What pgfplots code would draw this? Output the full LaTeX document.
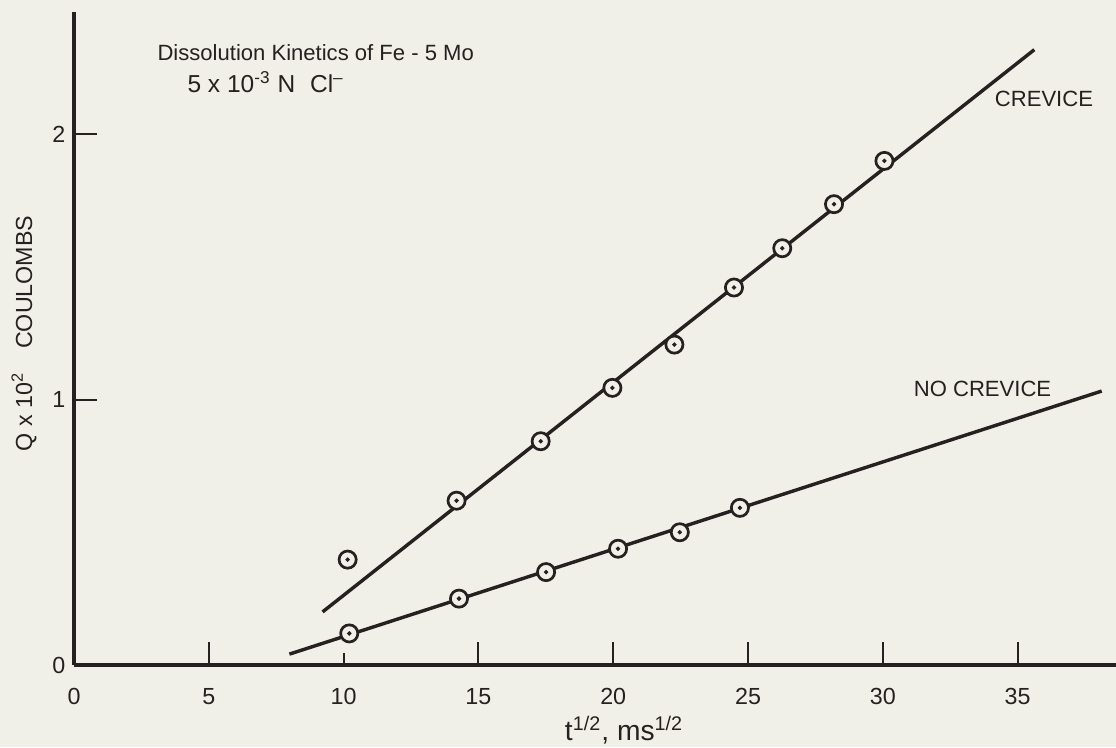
\documentclass[border=0pt]{standalone}
\usepackage{fontspec}
\setmainfont{Liberation Sans}
\usepackage{pgfplots}
\pgfplotsset{compat=1.18}
\definecolor{paper}{RGB}{241,240,232}
\definecolor{ink}{RGB}{38,32,32}

% points
\pgfplotstableread{
x y
10.15 0.397
14.19 0.619
17.31 0.843
19.97 1.044
22.27 1.207
24.48 1.422
26.27 1.570
28.19 1.736
30.06 1.899
}\crev
\pgfplotstableread{
x y
10.21 0.119
14.28 0.250
17.51 0.350
20.18 0.438
22.47 0.500
24.70 0.592
}\nocrev

\begin{document}
\begin{tikzpicture}
\begin{scope}[x=0.014337cm,y=0.014337cm]
\fill[paper] (0,0) rectangle (1116,747);
\end{scope}
\begin{axis}[at={(1.06094cm,1.17563cm)}, anchor=south west, scale only axis,
  width=14.939cm, height=9.362cm,
  xmin=0, xmax=38.65, ymin=0, ymax=2.46,
  axis lines=left,
  axis line style={-, line width=1.8pt, ink},
  tick style={ink, line width=0.8pt},
  tick align=inside, major tick length=9.5pt,
  xtick={0,5,15,20,25,30,35}, ytick={0,1,2},
  extra x ticks={10}, extra x tick style={major tick length=5pt},
  /pgf/number format/assume math mode=true,
  ticklabel style={font=\fontsize{9.5}{10}\selectfont, text=ink},
  xticklabel style={yshift=-6pt},
  xlabel={t\textsuperscript{1/2}, ms\textsuperscript{1/2}},
  ylabel={Q x 10\textsuperscript{2}\quad COULOMBS},
  xlabel style={at={(axis description cs:0.528,-0.1)}, anchor=center,
    font=\fontsize{11.5}{13}\selectfont, text=ink},
  ylabel style={at={(axis description cs:-0.048,0.508)}, anchor=center,
    font=\fontsize{9.5}{11}\selectfont, text=ink},
]
\addplot[ink, line width=1.4pt] coordinates {(9.22,0.200) (35.62,2.318)};
\addplot[ink, line width=1.4pt] coordinates {(7.99,0.041) (38.12,1.032)};
\addplot[only marks, mark=*, mark size=3.5pt,
  mark options={fill=paper, draw=ink, line width=1.1pt}] table {\crev};
\addplot[only marks, mark=*, mark size=3.5pt,
  mark options={fill=paper, draw=ink, line width=1.1pt}] table {\nocrev};
\addplot[only marks, mark=*, mark size=0.7pt, ink] table {\crev};
\addplot[only marks, mark=*, mark size=0.7pt, ink] table {\nocrev};
\end{axis}
\begin{scope}[x=0.014337cm,y=0.014337cm,
  every node/.style={inner sep=0pt, text=ink}]
\node[anchor=base west, font=\fontsize{9}{11}\selectfont] at (157,686)
  {Dissolution Kinetics of Fe - 5 Mo};
\node[anchor=base west, font=\fontsize{10}{12}\selectfont] at (187,654)
  {5 x 10\textsuperscript{-3} N\hspace{6pt}Cl\textsuperscript{--}};
\node[anchor=base west, font=\fontsize{9}{10}\selectfont] at (994,640) {CREVICE};
\node[anchor=base west, font=\fontsize{9}{10}\selectfont] at (913,350) {NO CREVICE};
\end{scope}
\pgfresetboundingbox
\path[use as bounding box] (0,0) rectangle (16cm,10.7097cm);
\end{tikzpicture}
\end{document}
